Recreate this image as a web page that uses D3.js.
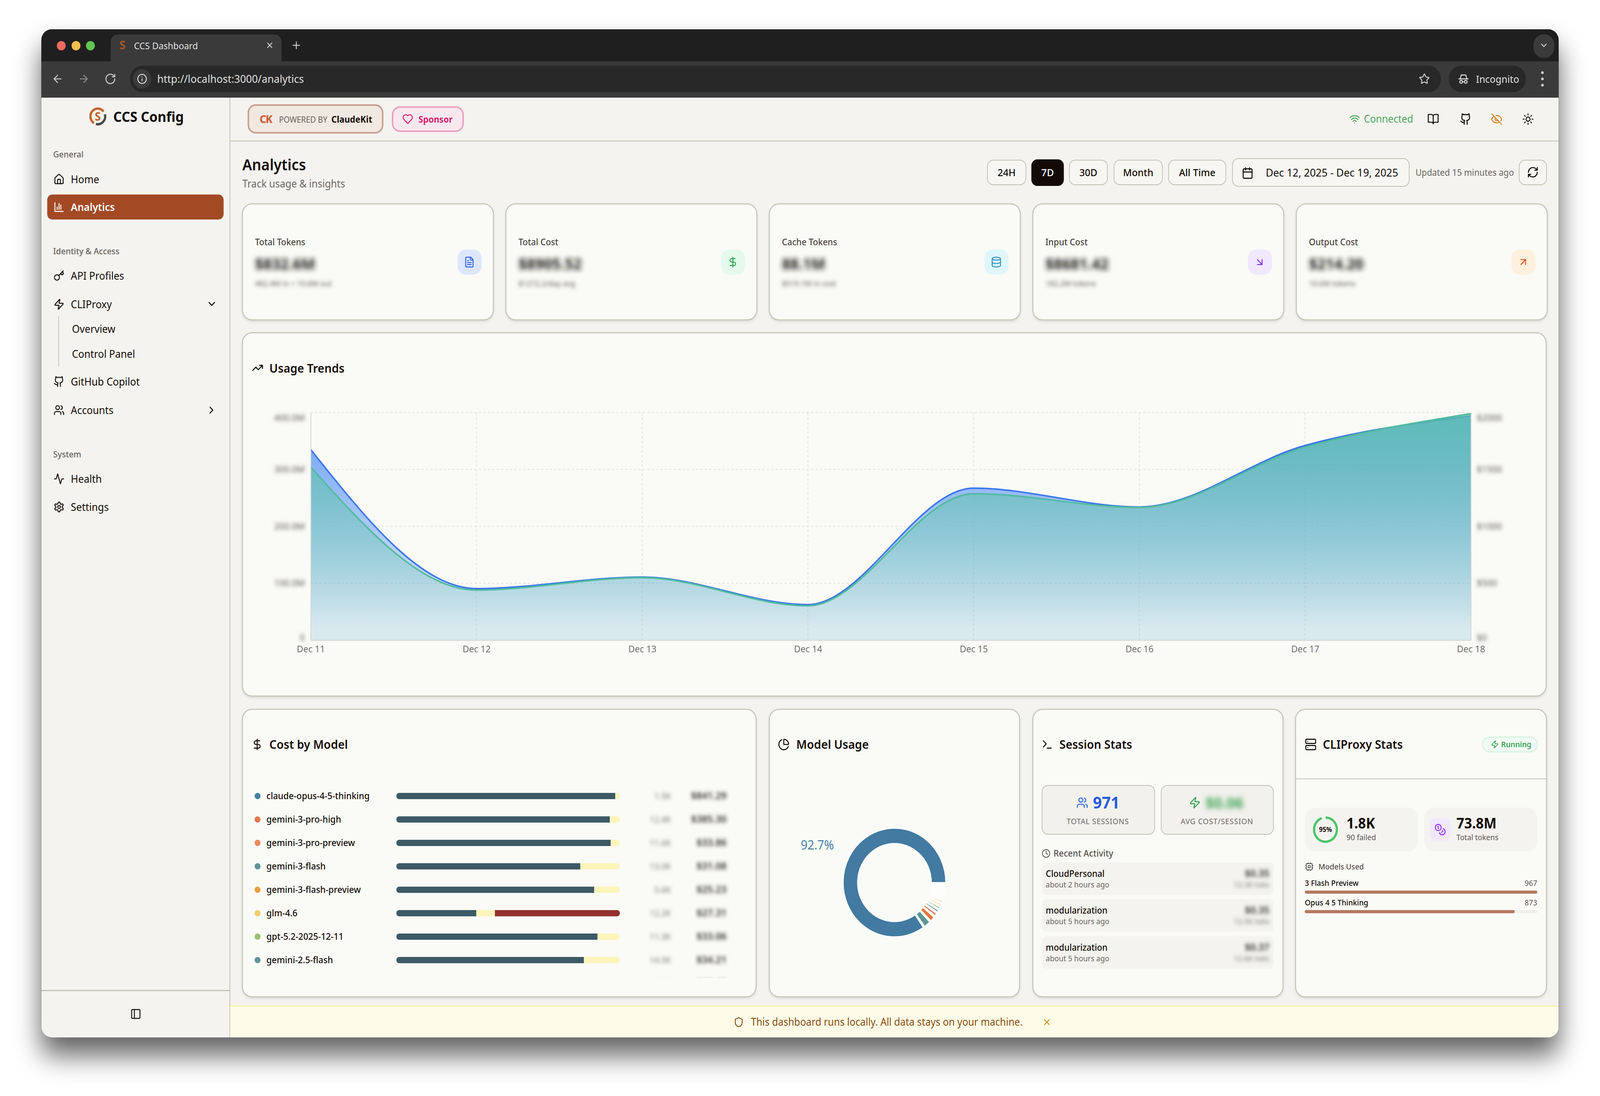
<!DOCTYPE html>
<html>
<head>
<meta charset="utf-8">
<title>CCS Dashboard</title>
<script src="https://cdn.jsdelivr.net/npm/d3@7"></script>
<style>
  html, body { margin: 0; padding: 0; background: #fff; overflow: hidden; }
  svg { display: block; width: 100vw; height: 100vh; font-family: "Noto Sans", sans-serif; }
</style>
</head>
<body>
<div id="container"></div>
<script>
// usage trends
const days = ["Dec 11", "Dec 12", "Dec 13", "Dec 14", "Dec 15", "Dec 16", "Dec 17", "Dec 18"];
const tokenValues = [335, 90.6, 110.8, 62.4, 267, 234, 342, 394];
const costValues = [1520, 440, 549, 302, 1286, 1166, 1695, 1990];
const tokenTicks = [0, 100, 200, 300, 400];
const tokenTickLabels = ["0", "100.0M", "200.0M", "300.0M", "400.0M"];
const costTicks = [0, 500, 1000, 1500, 2000];
const costTickLabels = ["$0", "$500", "$1000", "$1500", "$2000"];

// cost by model
const modelNames = ["claude-opus-4-5-thinking", "gemini-3-pro-high", "gemini-3-pro-preview", "gemini-3-flash",
  "gemini-3-flash-preview", "glm-4.6", "gpt-5.2-2025-12-11", "gemini-2.5-flash"];
const modelColors = ["#447ea6", "#e4774a", "#ec8c5f", "#5f9598", "#eba040", "#f2cd6c", "#9cbf73", "#5f9598"];
const cacheShare = [0.979, 0.955, 0.959, 0.823, 0.885, 0.358, 0.9, 0.839];
const inputShare = [0.021, 0.045, 0.041, 0.177, 0.115, 0.083, 0.1, 0.161];
const outputShare = [0, 0, 0, 0, 0, 0.559, 0, 0];
const modelTokenLabels = ["1.5K", "12.4K", "11.6K", "13.0K", "5.6K", "12.2K", "11.3K", "14.5K", "5.8K"];
const modelCostLabels = ["$841.29", "$385.30", "$33.86", "$31.08", "$25.23", "$27.31", "$33.06", "$34.21", "$19.40"];

// model usage donut
const usageShare = [0.927, 0.022, 0.0152, 0.0085, 0.0061, 0.0055, 0.0049, 0.0043,
  0.0008, 0.0008, 0.0008, 0.0008, 0.0008, 0.0008, 0.0008, 0.0008];
const usageColors = ["#427aa1", "#5f9695", "#e0763c", "#e5835a", "#4a8a90", "#8fbc6e", "#f0c75a", "#e8a33c",
  "#fff", "#fff", "#fff", "#fff", "#fff", "#fff", "#fff", "#fff"];

// session stats
const sessionNames = ["CloudPersonal", "modularization", "modularization"];
const sessionTimes = ["about 2 hours ago", "about 5 hours ago", "about 5 hours ago"];
const sessionCosts = ["$0.35", "$0.35", "$0.37"];
const sessionTokens = ["12.3K toks", "12.5K toks", "12.6K toks"];

// cliproxy stats
const proxyModels = ["3 Flash Preview", "Opus 4 5 Thinking"];
const proxyCounts = [967, 873];
const successRate = 0.95;

// kpi cards
const kpiTitles = ["Total Tokens", "Total Cost", "Cache Tokens", "Input Cost", "Output Cost"];
const kpiValues = ["$832.6M", "$8905.52", "88.1M", "$8681.42", "$214.20"];
const kpiNotes = ["482.4M in + 10.6M out", "$1272.2/day avg", "$519.1M in cost", "182.2M tokens", "10.6M tokens"];
const kpiIcons = ["file", "dollar", "database", "arrowDownRight", "arrowUpRight"];
const kpiTints = ["#dce7fd", "#e4faea", "#def6fc", "#f0e8fe", "#fdf0dd"];
const kpiInks = ["#2f62e0", "#2f9e4f", "#2b93b8", "#8a2be2", "#d9581a"];

// sidebar + toolbar text
const rangeButtons = ["24H", "7D", "30D", "Month", "All Time"];

const icons = {
  home: '<path d="M15 21v-8a1 1 0 0 0-1-1h-4a1 1 0 0 0-1 1v8"/><path d="M3 10a2 2 0 0 1 .709-1.528l7-5.999a2 2 0 0 1 2.582 0l7 5.999A2 2 0 0 1 21 10v9a2 2 0 0 1-2 2H5a2 2 0 0 1-2-2z"/>',
  bars: '<path d="M3 3v18h18"/><path d="M8 17v-5"/><path d="M12 17V5"/><path d="M16 17V8"/>',
  key: '<path d="m15.5 7.5 2.3 2.3a1 1 0 0 0 1.4 0l2.1-2.1a1 1 0 0 0 0-1.4L19 4"/><path d="m21 2-9.6 9.6"/><circle cx="7.5" cy="15.5" r="5.5"/>',
  zap: '<path d="M4 14a1 1 0 0 1-.78-1.63l9.9-10.2a.5.5 0 0 1 .86.46l-1.92 6.02A1 1 0 0 0 13 10h7a1 1 0 0 1 .78 1.63l-9.9 10.2a.5.5 0 0 1-.86-.46l1.92-6.02A1 1 0 0 0 11 14z"/>',
  github: '<path d="M15 22v-4a4.8 4.8 0 0 0-1-3.5c3 0 6-2 6-5.5.08-1.25-.27-2.48-1-3.5.28-1.15.28-2.35 0-3.5 0 0-1 0-3 1.5-2.64-.5-5.36-.5-8 0C6 2 5 2 5 2c-.3 1.15-.3 2.35 0 3.5A5.403 5.403 0 0 0 4 9c0 3.5 3 5.5 6 5.5-.39.49-.68 1.05-.85 1.65-.17.6-.22 1.23-.15 1.85v4"/><path d="M9 18c-4.51 2-5-2-7-2"/>',
  users: '<path d="M16 21v-2a4 4 0 0 0-4-4H6a4 4 0 0 0-4 4v2"/><path d="M16 3.128a4 4 0 0 1 0 7.744"/><path d="M22 21v-2a4 4 0 0 0-3-3.87"/><circle cx="9" cy="7" r="4"/>',
  activity: '<path d="M22 12h-2.48a2 2 0 0 0-1.93 1.46l-2.35 8.36a.25.25 0 0 1-.48 0L9.24 2.18a.25.25 0 0 0-.48 0l-2.35 8.36A2 2 0 0 1 4.49 12H2"/>',
  gear: '<path d="M12.22 2h-.44a2 2 0 0 0-2 2v.18a2 2 0 0 1-1 1.73l-.43.25a2 2 0 0 1-2 0l-.15-.08a2 2 0 0 0-2.73.73l-.22.38a2 2 0 0 0 .73 2.73l.15.1a2 2 0 0 1 1 1.72v.51a2 2 0 0 1-1 1.74l-.15.09a2 2 0 0 0-.73 2.73l.22.38a2 2 0 0 0 2.73.73l.15-.08a2 2 0 0 1 2 0l.43.25a2 2 0 0 1 1 1.73V20a2 2 0 0 0 2 2h.44a2 2 0 0 0 2-2v-.18a2 2 0 0 1 1-1.73l.43-.25a2 2 0 0 1 2 0l.15.08a2 2 0 0 0 2.73-.73l.22-.39a2 2 0 0 0-.73-2.73l-.15-.08a2 2 0 0 1-1-1.74v-.5a2 2 0 0 1 1-1.74l.15-.09a2 2 0 0 0 .73-2.73l-.22-.38a2 2 0 0 0-2.73-.73l-.15.08a2 2 0 0 1-2 0l-.43-.25a2 2 0 0 1-1-1.73V4a2 2 0 0 0-2-2z"/><circle cx="12" cy="12" r="3"/>',
  chevronDown: '<path d="m6 9 6 6 6-6"/>',
  chevronRight: '<path d="m9 18 6-6-6-6"/>',
  panel: '<rect x="3" y="3" width="18" height="18" rx="2"/><path d="M9 3v18"/>',
  heart: '<path d="M19 14c1.49-1.46 3-3.21 3-5.5A5.5 5.5 0 0 0 16.5 3c-1.76 0-3 .5-4.5 2-1.5-1.5-2.74-2-4.5-2A5.5 5.5 0 0 0 2 8.5c0 2.3 1.5 4.05 3 5.5l7 7Z"/>',
  wifi: '<path d="M12 20h.01"/><path d="M2 8.82a15 15 0 0 1 20 0"/><path d="M5 12.859a10 10 0 0 1 14 0"/><path d="M8.5 16.429a5 5 0 0 1 7 0"/>',
  book: '<path d="M12 7v14"/><path d="M3 18a1 1 0 0 1-1-1V4a1 1 0 0 1 1-1h5a4 4 0 0 1 4 4 4 4 0 0 1 4-4h5a1 1 0 0 1 1 1v13a1 1 0 0 1-1 1h-6a3 3 0 0 0-3 3 3 3 0 0 0-3-3z"/>',
  eyeOff: '<path d="M10.733 5.076a10.744 10.744 0 0 1 11.205 6.575 1 1 0 0 1 0 .696 10.747 10.747 0 0 1-1.444 2.49"/><path d="M14.084 14.158a3 3 0 0 1-4.242-4.242"/><path d="M17.479 17.499a10.75 10.75 0 0 1-15.417-5.151 1 1 0 0 1 0-.696 10.75 10.75 0 0 1 4.446-5.143"/><path d="m2 2 20 20"/>',
  sun: '<circle cx="12" cy="12" r="4"/><path d="M12 2v2"/><path d="M12 20v2"/><path d="m4.93 4.93 1.41 1.41"/><path d="m17.66 17.66 1.41 1.41"/><path d="M2 12h2"/><path d="M20 12h2"/><path d="m6.34 17.66-1.41 1.41"/><path d="m19.07 4.93-1.41 1.41"/>',
  calendar: '<path d="M8 2v4"/><path d="M16 2v4"/><rect x="3" y="4" width="18" height="18" rx="2"/><path d="M3 10h18"/>',
  refresh: '<path d="M3 12a9 9 0 0 1 9-9 9.75 9.75 0 0 1 6.74 2.74L21 8"/><path d="M21 3v5h-5"/><path d="M21 12a9 9 0 0 1-9 9 9.75 9.75 0 0 1-6.74-2.74L3 16"/><path d="M8 16H3v5"/>',
  file: '<path d="M15 2H6a2 2 0 0 0-2 2v16a2 2 0 0 0 2 2h12a2 2 0 0 0 2-2V7Z"/><path d="M14 2v4a2 2 0 0 0 2 2h4"/><path d="M10 9H8"/><path d="M16 13H8"/><path d="M16 17H8"/>',
  dollar: '<path d="M12 2v20"/><path d="M17 5H9.5a3.5 3.5 0 0 0 0 7h5a3.5 3.5 0 0 1 0 7H6"/>',
  database: '<ellipse cx="12" cy="5" rx="9" ry="3"/><path d="M3 5V19A9 3 0 0 0 21 19V5"/><path d="M3 12A9 3 0 0 0 21 12"/>',
  arrowDownRight: '<path d="m7 7 10 10"/><path d="M17 7v10H7"/>',
  arrowUpRight: '<path d="M7 7h10v10"/><path d="M7 17 17 7"/>',
  trending: '<path d="M16 7h6v6"/><path d="m22 7-8.5 8.5-5-5L2 17"/>',
  pie: '<path d="M21 12c.552 0 1.005-.449.95-.998a10 10 0 0 0-8.953-8.951c-.55-.055-.998.398-.998.95v8a1 1 0 0 0 1 1z"/><path d="M21.21 15.89A10 10 0 1 1 8 2.83"/>',
  terminal: '<path d="M12 19h8"/><path d="m4 17 6-6-6-6"/>',
  clock: '<circle cx="12" cy="12" r="10"/><path d="M12 6v6l4 2"/>',
  server: '<rect x="2" y="2" width="20" height="8" rx="2"/><rect x="2" y="14" width="20" height="8" rx="2"/><path d="M6 6h.01"/><path d="M6 18h.01"/>',
  cpu: '<rect x="4" y="4" width="16" height="16" rx="2"/><rect x="9" y="9" width="6" height="6" rx="1"/><path d="M15 2v2"/><path d="M15 20v2"/><path d="M2 15h2"/><path d="M2 9h2"/><path d="M20 15h2"/><path d="M20 9h2"/><path d="M9 2v2"/><path d="M9 20v2"/>',
  coins: '<circle cx="8" cy="8" r="6"/><path d="M18.09 10.37A6 6 0 1 1 10.34 18"/><path d="M7 6h1v4"/><path d="m16.71 13.88.7.71-2.82 2.82"/>',
  shield: '<path d="M20 13c0 5-3.5 7.5-7.66 8.95a1 1 0 0 1-.67-.01C7.5 20.5 4 18 4 13V6a1 1 0 0 1 1-1c2 0 4.5-1.2 6.24-2.72a1.17 1.17 0 0 1 1.52 0C14.51 3.81 17 5 19 5a1 1 0 0 1 1 1z"/>',
  x: '<path d="M18 6 6 18"/><path d="m6 6 12 12"/>',
  plus: '<path d="M5 12h14"/><path d="M12 5v14"/>',
  back: '<path d="m12 19-7-7 7-7"/><path d="M19 12H5"/>',
  forward: '<path d="M5 12h14"/><path d="m12 5 7 7-7 7"/>',
  reload: '<path d="M21 12a9 9 0 1 1-9-9c2.52 0 4.93 1 6.74 2.74L21 8"/><path d="M21 3v5h-5"/>',
  info: '<circle cx="12" cy="12" r="10"/><path d="M12 16v-4"/><path d="M12 8h.01"/>',
  star: '<path d="M11.525 2.295a.53.53 0 0 1 .95 0l2.31 4.679a2.123 2.123 0 0 0 1.595 1.16l5.166.756a.53.53 0 0 1 .294.904l-3.736 3.638a2.123 2.123 0 0 0-.611 1.878l.882 5.14a.53.53 0 0 1-.771.56l-4.618-2.428a2.122 2.122 0 0 0-1.973 0L6.396 21.01a.53.53 0 0 1-.77-.56l.881-5.139a2.122 2.122 0 0 0-.611-1.879L2.16 9.795a.53.53 0 0 1 .294-.906l5.165-.755a2.122 2.122 0 0 0 1.597-1.16z"/>',
  incognito: '<path d="M2 12h20"/><path d="M5 12l2-8h10l2 8"/><circle cx="7" cy="18" r="3"/><circle cx="17" cy="18" r="3"/><path d="M10 18h4"/>'
};

const width = 4336;
const height = 2806;
const ink = "#130c07";
const muted = "#6b6660";
const line = "#c2c1b2";
const cardFill = "#fafaf6";

// the coordinates below are the reference's; stretch them over whatever window we get
const svg = d3.select("#container").append("svg")
  .attr("viewBox", `0 0 ${width} ${height}`).attr("preserveAspectRatio", "none");

const defs = svg.append("defs");
const addFilter = (id, build) => {
  const f = defs.append("filter").attr("id", id)
    .attr("x", "-40%").attr("y", "-120%").attr("width", "180%").attr("height", "340%");
  build(f);
};
addFilter("blurBig", f => f.append("feGaussianBlur").attr("stdDeviation", 6.5));
addFilter("blurSmall", f => f.append("feGaussianBlur").attr("stdDeviation", 5));
addFilter("cardShadow", f => f.append("feDropShadow").attr("dx", 0).attr("dy", 3).attr("stdDeviation", 3).attr("flood-opacity", 0.12));
defs.append("filter").attr("id", "windowShadow")
  .attr("x", "-10%").attr("y", "-10%").attr("width", "120%").attr("height", "120%")
  .append("feDropShadow").attr("dx", 0).attr("dy", 45).attr("stdDeviation", 35).attr("flood-opacity", 0.62);
defs.append("clipPath").attr("id", "windowClip")
  .append("rect").attr("x", 112).attr("y", 75).attr("width", 4112).attr("height", 2581).attr("rx", 28);

function label(parent, x, y, str, opts = {}) {
  const el = parent.append("text")
    .attr("x", x).attr("y", y).text(str)
    .attr("font-size", opts.size || 28)
    .attr("font-weight", opts.weight || 400)
    .attr("fill", opts.fill || ink)
    .attr("text-anchor", opts.anchor || "start");
  if (opts.spacing) el.attr("letter-spacing", opts.spacing);
  if (opts.blur) el.attr("filter", `url(#${opts.blur})`);
  return el;
}

function icon(parent, name, cx, cy, size, color, sw = 2) {
  return parent.append("g")
    .attr("transform", `translate(${cx - size / 2},${cy - size / 2}) scale(${size / 24})`)
    .attr("fill", "none").attr("stroke", color).attr("stroke-width", sw)
    .attr("stroke-linecap", "round").attr("stroke-linejoin", "round")
    .html(icons[name]);
}

function box(parent, x0, y0, x1, y1, r, fill, stroke, sw = 2) {
  return parent.append("rect")
    .attr("x", x0).attr("y", y0).attr("width", x1 - x0).attr("height", y1 - y0).attr("rx", r)
    .attr("fill", fill).attr("stroke", stroke || "none").attr("stroke-width", stroke ? sw : 0);
}

// window
svg.append("rect").attr("x", 112).attr("y", 75).attr("width", 4112).attr("height", 2581).attr("rx", 28)
  .attr("fill", "#111").attr("filter", "url(#windowShadow)");
const win = svg.append("g").attr("clip-path", "url(#windowClip)");

// browser chrome
box(win, 112, 75, 4224, 160, 0, "#1f1f1f");
box(win, 112, 157, 4224, 250, 0, "#3a3a3a");
box(win, 300, 88, 763, 170, 20, "#3a3a3a");
[["#ed6a5e", 166], ["#f4bf4f", 206], ["#61c554", 245]].forEach(([c, x]) =>
  win.append("circle").attr("cx", x).attr("cy", 117).attr("r", 12).attr("fill", c));
label(win, 363, 126, "CCS Dashboard", { size: 24, fill: "#e2e2e2" });
icon(win, "x", 731, 116, 24, "#e2e2e2");
icon(win, "plus", 803, 116, 30, "#d0d0d0");
label(win, 332, 126, "S", { size: 30, weight: 700, fill: "#a8552b", anchor: "middle" });
box(win, 4156, 88, 4212, 148, 26, "#3a3a3a");
icon(win, "chevronDown", 4184, 116, 26, "#e2e2e2");
icon(win, "back", 156, 202, 32, "#c8c8c8");
icon(win, "forward", 227, 202, 32, "#8a8a8a");
icon(win, "reload", 299, 202, 32, "#c8c8c8");
box(win, 352, 168, 3905, 236, 34, "#282828");
win.append("circle").attr("cx", 385).attr("cy", 202).attr("r", 25).attr("fill", "#3a3a3a");
icon(win, "info", 385, 202, 28, "#e2e2e2");
label(win, 426, 212, "http://localhost:3000/analytics", { size: 28, fill: "#e2e2e2" });
icon(win, "star", 3860, 202, 30, "#d0d0d0");
box(win, 3926, 168, 4135, 236, 34, "#282828");
icon(win, "incognito", 3966, 202, 30, "#e2e2e2");
label(win, 4000, 212, "Incognito", { size: 26, fill: "#e2e2e2" });
[-16, 0, 16].forEach(d => win.append("circle").attr("cx", 4180).attr("cy", 202 + d).attr("r", 3.5).attr("fill", "#d0d0d0"));

// page background
box(win, 112, 250, 4224, 2656, 0, "#f4f3ef");

// sidebar
win.append("line").attr("x1", 623).attr("x2", 623).attr("y1", 250).attr("y2", 2656).attr("stroke", line).attr("stroke-width", 2);
const logoArc = d3.arc().innerRadius(17).outerRadius(23);
const logo = win.append("g").attr("transform", "translate(265,298)");
logo.append("path").attr("d", logoArc({ startAngle: -2.6, endAngle: 0.9 })).attr("fill", "#c4622d");
logo.append("path").attr("d", logoArc({ startAngle: 1.3, endAngle: 3.4 })).attr("fill", "#4a4a4a");
label(logo, 0, 11, "S", { size: 30, weight: 700, fill: "#c4622d", anchor: "middle" });
label(win, 307, 312, "CCS Config", { size: 36, weight: 700 });

[["General", 403], ["Identity & Access", 651], ["System", 1171]].forEach(([s, y]) =>
  label(win, 144, y, s, { size: 22, weight: 500, fill: "#66625d" }));
box(win, 128, 498, 606, 562, 14, "#a34a25");
[["home", "Home", 469], ["bars", "Analytics", 540], ["key", "API Profiles", 716], ["zap", "CLIProxy", 789],
 ["github", "GitHub Copilot", 987], ["users", "Accounts", 1060], ["activity", "Health", 1236], ["gear", "Settings", 1308]]
  .forEach(([ic, s, y]) => {
    const on = s === "Analytics";
    icon(win, ic, 160, y - 10, 30, on ? "#fff" : ink);
    label(win, 192, y, s, { size: 27, weight: on ? 600 : 400, fill: on ? "#fff" : ink });
  });
win.append("line").attr("x1", 159).attr("x2", 159).attr("y1", 810).attr("y2", 938).attr("stroke", line).attr("stroke-width", 2);
label(win, 195, 852, "Overview", { size: 27 });
label(win, 195, 916, "Control Panel", { size: 27 });
icon(win, "chevronDown", 574, 778, 30, ink);
icon(win, "chevronRight", 573, 1050, 30, ink);
win.append("line").attr("x1", 112).attr("x2", 623).attr("y1", 2536).attr("y2", 2536).attr("stroke", line).attr("stroke-width", 3);
icon(win, "panel", 368, 2596, 30, ink);

// header
win.append("line").attr("x1", 623).attr("x2", 4224).attr("y1", 361).attr("y2", 361).attr("stroke", line).attr("stroke-width", 2);
box(win, 673, 269, 1037, 340, 20, "#f0e9e2", "#c99c8a", 4);
label(win, 720, 315, "CK", { size: 28, weight: 800, fill: "#c9643c", anchor: "middle", spacing: -2 });
label(win, 756, 314, "POWERED BY", { size: 21, fill: "#66625d" });
label(win, 898, 314, "ClaudeKit", { size: 23, weight: 700 });
box(win, 1064, 274, 1255, 336, 20, "#fae8ef", "#eaa0c0", 4);
icon(win, "heart", 1105, 305, 30, "#d1236f");
label(win, 1134, 314, "Sponsor", { size: 23, weight: 700, fill: "#d1236f" });
icon(win, "wifi", 3671, 305, 30, "#4ca65a");
label(win, 3696, 314, "Connected", { size: 26.5, fill: "#4ca65a" });
icon(win, "book", 3884, 305, 32, ink);
icon(win, "github", 3972, 305, 32, ink);
icon(win, "eyeOff", 4056, 305, 32, "#d9822b");
icon(win, "sun", 4141, 305, 32, ink);

// page title + range selector
label(win, 657, 436, "Analytics", { size: 39, weight: 600 });
label(win, 657, 480, "Track usage & insights", { size: 26.5, fill: muted });
const rangeBounds = [[2676, 2780], [2795, 2883], [2898, 3001], [3019, 3150], [3167, 3322]];
rangeButtons.forEach((s, i) => {
  const [x0, x1] = rangeBounds[i];
  const on = s === "7D";
  box(win, x0, on ? 408 : 410, x1, on ? 476 : 473, 16, on ? "#130a05" : "#f7f6f2", on ? null : line);
  label(win, (x0 + x1) / 2, 451, s, { size: 26, weight: 500, anchor: "middle", fill: on ? "#fff" : ink });
});
box(win, 3340, 406, 3819, 477, 16, "#f7f6f2", line);
icon(win, "calendar", 3381, 443, 32, ink);
label(win, 3430, 452, "Dec 12, 2025 - Dec 19, 2025", { size: 28 });
label(win, 3836, 450, "Updated 15 minutes ago", { size: 23, fill: muted });
box(win, 4117, 410, 4191, 473, 16, "#f7f6f2", line);
icon(win, "refresh", 4154, 441, 32, ink);

function card(x0, y0, x1, y1) {
  return box(win, x0, y0, x1, y1, 26, cardFill, line, 2.5).attr("filter", "url(#cardShadow)");
}

// kpi cards
kpiTitles.forEach((title, i) => {
  const x0 = 657 + i * 714;
  card(x0, 522, x0 + 680, 819);
  label(win, x0 + 34, 628, title, { size: 23, weight: 500, fill: "#4a4540" });
  label(win, x0 + 34, 690, kpiValues[i], { size: 40, weight: 700, fill: "#1f1a17", blur: "blurBig" });
  label(win, x0 + 34, 733, kpiNotes[i], { size: 20, fill: "#5f5b56", blur: "blurSmall" });
  box(win, x0 + 583, 639, x0 + 648, 703, 22, kpiTints[i]);
  icon(win, kpiIcons[i], x0 + 615, 671, 30, kpiInks[i]);
});

// usage trends
card(657, 852, 4190, 1782);
icon(win, "trending", 698, 942, 32, ink);
label(win, 730, 954, "Usage Trends", { size: 31, weight: 600 });

const plotX = [842, 3986];
const plotY = [1639, 1056];
const x = d3.scalePoint().domain(days).range(plotX);
const yTokens = d3.scaleLinear().domain([0, 400]).range(plotY);
const yCost = d3.scaleLinear().domain([0, 2000]).range(plotY);

const trend = win.append("g");
const grid = trend.append("g").attr("stroke", "#e2e2dd").attr("stroke-width", 2).attr("stroke-dasharray", "6 6");
grid.selectAll(".h").data(tokenTicks.slice(1)).join("line").attr("class", "h")
  .attr("x1", plotX[0]).attr("x2", plotX[1]).attr("y1", d => yTokens(d)).attr("y2", d => yTokens(d));
grid.selectAll(".v").data(days.slice(1, -1)).join("line").attr("class", "v")
  .attr("x1", d => x(d)).attr("x2", d => x(d)).attr("y1", plotY[0]).attr("y2", plotY[1]);

function gradient(id, color, top, bottom) {
  const g = defs.append("linearGradient").attr("id", id).attr("x1", 0).attr("x2", 0).attr("y1", 0).attr("y2", 1);
  g.append("stop").attr("offset", "5%").attr("stop-color", color).attr("stop-opacity", top);
  g.append("stop").attr("offset", "95%").attr("stop-color", color).attr("stop-opacity", bottom);
}
gradient("tokenFill", "#3b82f6", 0.72, 0.1);
gradient("costFill", "#5cc4a4", 0.72, 0.1);

const series = [
  { values: tokenValues, y: yTokens, stroke: "#3a76ec", fill: "url(#tokenFill)" },
  { values: costValues, y: yCost, stroke: "#52bb9e", fill: "url(#costFill)" }
];
series.forEach(s => {
  const area = d3.area().curve(d3.curveMonotoneX)
    .x((d, i) => x(days[i])).y0(plotY[0]).y1(d => s.y(d));
  trend.append("path").attr("d", area(s.values)).attr("fill", s.fill);
  trend.append("path").attr("d", area.lineY1()(s.values)).attr("fill", "none")
    .attr("stroke", s.stroke).attr("stroke-width", 4);
});

const styleAxis = g => {
  g.attr("font-family", null).attr("font-size", 24);
  g.select(".domain").attr("stroke", "#d3d5d6").attr("stroke-width", 2);
  g.selectAll("text").attr("fill", "#6f6f6c");
};
trend.append("g").attr("transform", `translate(0,${plotY[0]})`)
  .call(d3.axisBottom(x).tickSize(0).tickPadding(14))
  .call(styleAxis);

// the top label sits below its gridline, the zero label lifts clear of the date ticks
function blurredAxis(axis, left) {
  const g = trend.append("g").attr("transform", `translate(${left},0)`).call(axis).call(styleAxis);
  g.selectAll("text").attr("filter", "url(#blurSmall)").attr("fill", "#5f5b56")
    .attr("dy", (d, i, n) => i === n.length - 1 ? "0.9em" : i === 0 ? "0.05em" : "0.32em");
}
blurredAxis(d3.axisLeft(yTokens).tickValues(tokenTicks).tickSize(0).tickPadding(16)
  .tickFormat((d, i) => tokenTickLabels[i]), plotX[0]);
blurredAxis(d3.axisRight(yCost).tickValues(costTicks).tickSize(0).tickPadding(16)
  .tickFormat((d, i) => costTickLabels[i]), plotX[1]);

// cost by model
card(657, 1816, 2049, 2552);
icon(win, "dollar", 697, 1906, 32, ink);
label(win, 730, 1917, "Cost by Model", { size: 31, weight: 600 });

const rowY = d3.scalePoint().domain(modelNames).range([2038, 2458]);
const barX = d3.scaleLinear().domain([0, 1]).range([1074, 1680]);
const barHeight = 16;
const costTable = modelNames.map((name, i) => ({ name, cache: cacheShare[i], input: inputShare[i], output: outputShare[i] }));
const stacked = d3.stack().keys(["cache", "input", "output"])(costTable);
const barColors = { cache: "#3d5a66", input: "#fdf4bb", output: "#93312d" };

defs.selectAll(".rowClip").data(modelNames).join("clipPath").attr("class", "rowClip").attr("id", (d, i) => `row${i}`)
  .append("rect").attr("x", barX(0)).attr("width", barX(1) - barX(0))
  .attr("y", d => rowY(d) - barHeight / 2).attr("height", barHeight).attr("rx", barHeight / 2);

const costRows = win.append("g");
costRows.selectAll(".dot").data(modelNames).join("circle").attr("class", "dot")
  .attr("cx", 698).attr("cy", d => rowY(d)).attr("r", 8).attr("fill", (d, i) => modelColors[i]);
costRows.selectAll(".name").data(modelNames).join("text").attr("class", "name")
  .attr("x", 722).attr("y", d => rowY(d) + 8).text(d => d)
  .attr("font-size", 23.5).attr("font-weight", 500).attr("fill", ink);
stacked.forEach(layer => {
  costRows.append("g").selectAll("rect").data(layer).join("rect")
    .attr("clip-path", (d, i) => `url(#row${i})`)
    .attr("x", d => barX(d[0])).attr("width", d => barX(d[1]) - barX(d[0]))
    .attr("y", d => rowY(d.data.name) - barHeight / 2).attr("height", barHeight)
    .attr("fill", barColors[layer.key]);
});
defs.append("clipPath").attr("id", "costClip").append("rect")
  .attr("x", 1700).attr("y", 2000).attr("width", 300).attr("height", 504);
const costValuesGroup = win.append("g").attr("clip-path", "url(#costClip)");
const rowStep = rowY.step();
modelTokenLabels.forEach((s, i) => {
  label(costValuesGroup, 1818, rowY(modelNames[0]) + i * rowStep + 8, s, { size: 22, anchor: "end", fill: "#7a7772", blur: "blurSmall" });
  label(costValuesGroup, 1969, rowY(modelNames[0]) + i * rowStep + 8, modelCostLabels[i], { size: 26, weight: 600, anchor: "end", fill: "#36322e", blur: "blurSmall" });
});

// model usage
card(2085, 1816, 2763, 2552);
icon(win, "pie", 2124, 1906, 32, ink);
label(win, 2158, 1917, "Model Usage", { size: 31, weight: 600 });
const padAngle = 2 * Math.PI / 180;
const pie = d3.pie().sort(null).startAngle(Math.PI / 2).endAngle(Math.PI / 2 - 2 * Math.PI).padAngle(padAngle);
const donutArc = d3.arc().innerRadius(100).outerRadius(139);
const donut = win.append("g").attr("transform", "translate(2424,2259.5)");
donut.selectAll("path").data(pie(usageShare)).join("path")
  .attr("d", d => donutArc({ startAngle: d.startAngle, endAngle: d.endAngle + padAngle }))
  .attr("fill", (d, i) => usageColors[i])
  .attr("stroke", "#fff").attr("stroke-width", 2.5);
label(win, 2170, 2175, d3.format(".1%")(usageShare[0]), { size: 32, fill: "#4a80a6" });

// session stats
card(2799, 1816, 3477, 2552);
icon(win, "terminal", 2838, 1906, 32, ink);
label(win, 2871, 1917, "Session Stats", { size: 31, weight: 600 });
box(win, 2824, 2011, 3129, 2136, 16, "#f2f1ec", line);
box(win, 3147, 2011, 3451, 2136, 16, "#f2f1ec", line);
icon(win, "users", 2933, 2055, 32, "#2f62e0");
label(win, 2962, 2070, "971", { size: 42, weight: 700, fill: "#2a5be0" });
label(win, 2975, 2110, "TOTAL SESSIONS", { size: 20, fill: muted, anchor: "middle", spacing: 0.9 });
icon(win, "zap", 3238, 2055, 32, "#3fa257");
label(win, 3267, 2070, "$0.06", { size: 40, weight: 700, fill: "#3fa257", blur: "blurBig" });
label(win, 3298, 2110, "AVG COST/SESSION", { size: 20, fill: muted, anchor: "middle", spacing: 0.9 });
icon(win, "clock", 2835, 2185, 24, "#55504b");
label(win, 2855, 2193, "Recent Activity", { size: 23, weight: 500, fill: "#55504b" });
sessionNames.forEach((name, i) => {
  const y0 = 2208 + i * 94.5;
  box(win, 2824, y0, 3451, y0 + 83, 12, "#f4f3ee");
  label(win, 2834, y0 + 37, name, { size: 23, weight: 500 });
  label(win, 2834, y0 + 64, sessionTimes[i], { size: 20, fill: muted });
  label(win, 3440, y0 + 37, sessionCosts[i], { size: 26, weight: 600, fill: "#36322e", anchor: "end", blur: "blurSmall" });
  label(win, 3440, y0 + 64, sessionTokens[i], { size: 20, fill: "#7a7772", anchor: "end", blur: "blurSmall" });
});

// cliproxy stats
card(3511, 1816, 4191, 2552);
win.append("line").attr("x1", 3512).attr("x2", 4190).attr("y1", 1994).attr("y2", 1994).attr("stroke", line).attr("stroke-width", 2);
icon(win, "server", 3552, 1906, 32, ink);
label(win, 3585, 1917, "CLIProxy Stats", { size: 31, weight: 600 });
box(win, 4018, 1887, 4166, 1925, 19, "#f1fbf4", "#c9f0d8");
icon(win, "zap", 4051, 1906, 22, "#3da35a");
label(win, 4068, 1913, "Running", { size: 20, weight: 600, fill: "#3da35a" });
box(win, 3536, 2068, 3843, 2180, 28, "#f4f3ef");
box(win, 3859, 2068, 4166, 2180, 28, "#f4f3ef");
const ring = d3.arc().innerRadius(28).outerRadius(34).cornerRadius(3);
const ringG = win.append("g").attr("transform", "translate(3592,2124)");
ringG.append("path").attr("d", ring({ startAngle: 0, endAngle: 2 * Math.PI * successRate })).attr("fill", "#4cc46a");
label(ringG, 0, 6, d3.format(".0%")(successRate), { size: 17, weight: 700, anchor: "middle" });
label(win, 3649, 2121, "1.8K", { size: 37, weight: 700 });
label(win, 3649, 2151, "90 failed", { size: 20, fill: "#5a5550" });
box(win, 3875, 2095, 3931, 2152, 14, "#f1e8fd");
icon(win, "coins", 3903, 2124, 32, "#9333ea");
label(win, 3947, 2121, "73.8M", { size: 37, weight: 700 });
label(win, 3947, 2151, "Total tokens", { size: 20, fill: "#5a5550" });
icon(win, "cpu", 3548, 2219, 24, "#55504b");
label(win, 3573, 2226, "Models Used", { size: 20, weight: 500, fill: "#55504b" });
const proxyX = d3.scaleLinear().domain([0, d3.max(proxyCounts)]).range([3536, 4166]);
const proxyY = d3.scalePoint().domain(proxyModels).range([2280, 2330]);
const proxyRows = win.append("g").selectAll("g").data(proxyModels).join("g");
proxyRows.append("rect").attr("x", proxyX(0)).attr("y", d => proxyY(d)).attr("height", 8).attr("rx", 4)
  .attr("width", proxyX.range()[1] - proxyX(0)).attr("fill", "#f0efec");
proxyRows.append("rect").attr("x", proxyX(0)).attr("y", d => proxyY(d)).attr("height", 8).attr("rx", 4)
  .attr("width", (d, i) => proxyX(proxyCounts[i]) - proxyX(0)).attr("fill", "#b57a60");
proxyRows.append("text").attr("x", proxyX(0)).attr("y", d => proxyY(d) - 12).text(d => d)
  .attr("font-size", 20).attr("font-weight", 500).attr("fill", ink);
proxyRows.append("text").attr("x", proxyX.range()[1]).attr("y", d => proxyY(d) - 12).text((d, i) => proxyCounts[i])
  .attr("font-size", 20).attr("text-anchor", "end").attr("fill", "#5a5550");

// bottom notice
box(win, 624, 2575, 4224, 2656, 0, "#fefce8");
win.append("line").attr("x1", 624).attr("x2", 4224).attr("y1", 2576).attr("y2", 2576).attr("stroke", "#f8f1a8").attr("stroke-width", 3);
icon(win, "shield", 2002, 2617, 28, "#854d0e");
label(win, 2035, 2626, "This dashboard runs locally. All data stays on your machine.", { size: 26.4, fill: "#854d0e" });
icon(win, "x", 2837, 2617, 26, "#ca8a04");
</script>
</body>
</html>
